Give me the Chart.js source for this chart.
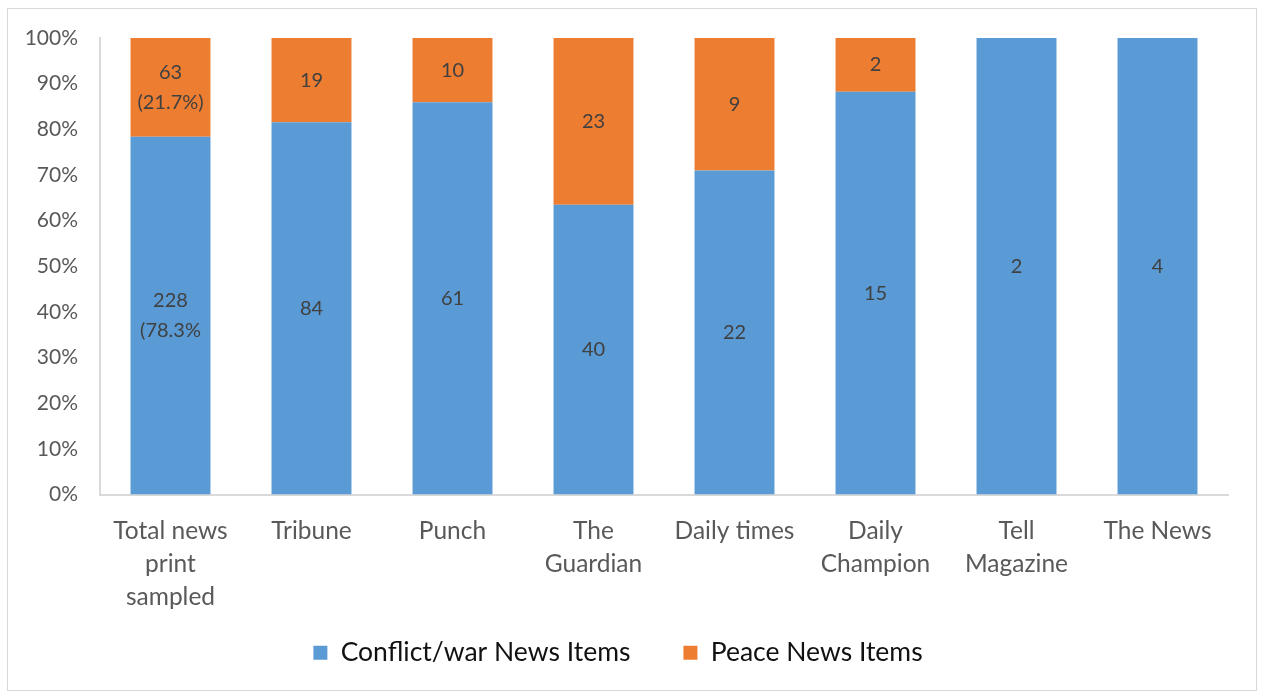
<!DOCTYPE html>
<html>
<head>
<meta charset="utf-8">
<script src="https://cdn.jsdelivr.net/npm/chart.js@4"></script>
<style>
  body { margin: 0; background: #fff; }
  #box { position: absolute; left: 7px; top: 8px; width: 1248px; height: 681px; border: 1px solid #d9d9d9; }
</style>
</head>
<body>
<div id="box"><canvas id="myChart" width="1248" height="681"></canvas></div>
<script>
// données
var categories = [["Total news", "print", "sampled"], "Tribune", "Punch", ["The", "Guardian"], "Daily times", ["Daily", "Champion"], ["Tell", "Magazine"], "The News"];
var conflictCounts = [228, 84, 61, 40, 22, 15, 2, 4];
var peaceCounts = [63, 19, 10, 23, 9, 2, 0, 0];
var conflictLabels = [["228", "(78.3%"], "84", "61", "40", "22", "15", "2", "4"];
var peaceLabels = [["63", "(21.7%)"], "19", "10", "23", "9", "2", "", ""];
var yTicks = [0, 10, 20, 30, 40, 50, 60, 70, 80, 90, 100];

var FONT = "Lato, 'Open Sans', sans-serif";

// passage en pourcentages (100% empilé)
var conflictPct = [];
var peacePct = [];
for (var i = 0; i < conflictCounts.length; i++) {
    var tot = conflictCounts[i] + peaceCounts[i];
    conflictPct.push(conflictCounts[i] / tot * 100);
    peacePct.push(peaceCounts[i] / tot * 100);
}

// étiquettes au milieu de chaque segment
const labelsPlugin = {
    id: 'labelsPlugin',
    afterDatasetsDraw(chart) {
        const ctx = chart.ctx;
        const allLabels = [conflictLabels, peaceLabels];
        ctx.save();
        ctx.fillStyle = '#404040';
        ctx.font = '20px ' + FONT;
        ctx.textAlign = 'center';
        ctx.textBaseline = 'middle';
        chart.data.datasets.forEach(function (ds, d) {
            const meta = chart.getDatasetMeta(d);
            meta.data.forEach(function (bar, i) {
                var txt = allLabels[d][i];
                if (!txt) return;
                var lines = Array.isArray(txt) ? txt : [txt];
                var mid = (bar.y + bar.base) / 2;
                var lh = 30;
                lines.forEach(function (l, k) {
                    ctx.fillText(l, bar.x, mid + (k - (lines.length - 1) / 2) * lh);
                });
            });
        });
        ctx.restore();
    }
};

const ctx = document.getElementById('myChart');
new Chart(ctx, {
    type: 'bar',
    data: {
        labels: categories,
        datasets: [{
            label: 'Conflict/war News Items',
            data: conflictPct,
            backgroundColor: '#5B9BD5',
            borderWidth: 0
        }, {
            label: 'Peace News Items',
            data: peacePct,
            backgroundColor: '#ED7D31',
            borderWidth: 0
        }]
    },
    options: {
        responsive: false,
        animation: false,
        layout: { padding: { top: 29, right: 28, left: 0, bottom: 14 } },
        datasets: { bar: { categoryPercentage: 1, barPercentage: 0.567 } },
        plugins: {
            tooltip: { enabled: false },
            legend: {
                position: 'bottom',
                labels: {
                    color: '#111',
                    font: { family: FONT, size: 26.5 },
                    boxWidth: 14,
                    boxHeight: 14,
                    padding: 53
                }
            }
        },
        scales: {
            x: {
                stacked: true,
                grid: { display: false, drawTicks: false },
                border: { display: true, color: '#d9d9d9', width: 2 },
                ticks: {
                    color: '#595959',
                    font: { family: FONT, size: 24.5, lineHeight: 1.35 },
                    padding: 20,
                    maxRotation: 0
                },
                afterFit: function (scale) {
                    scale.height = 92;
                    // pas de découpe des libellés sur 3 lignes
                    scale._computeLabelArea = function () { return undefined; };
                }
            },
            y: {
                stacked: true,
                min: 0,
                max: 100,
                afterBuildTicks: function (scale) {
                    scale.ticks = yTicks.map(function (v) { return { value: v }; });
                },
                grid: { display: false, drawTicks: false },
                border: { display: true, color: '#d9d9d9', width: 2 },
                ticks: {
                    color: '#595959',
                    font: { family: FONT, size: 21 },
                    padding: 22,
                    callback: function (v) { return v + '%'; }
                },
                afterFit: function (scale) {
                    scale.width = 92;
                    scale.paddingTop = 0;
                    scale.paddingBottom = 0;
                }
            }
        }
    },
    plugins: [labelsPlugin]
});
</script>
</body>
</html>
